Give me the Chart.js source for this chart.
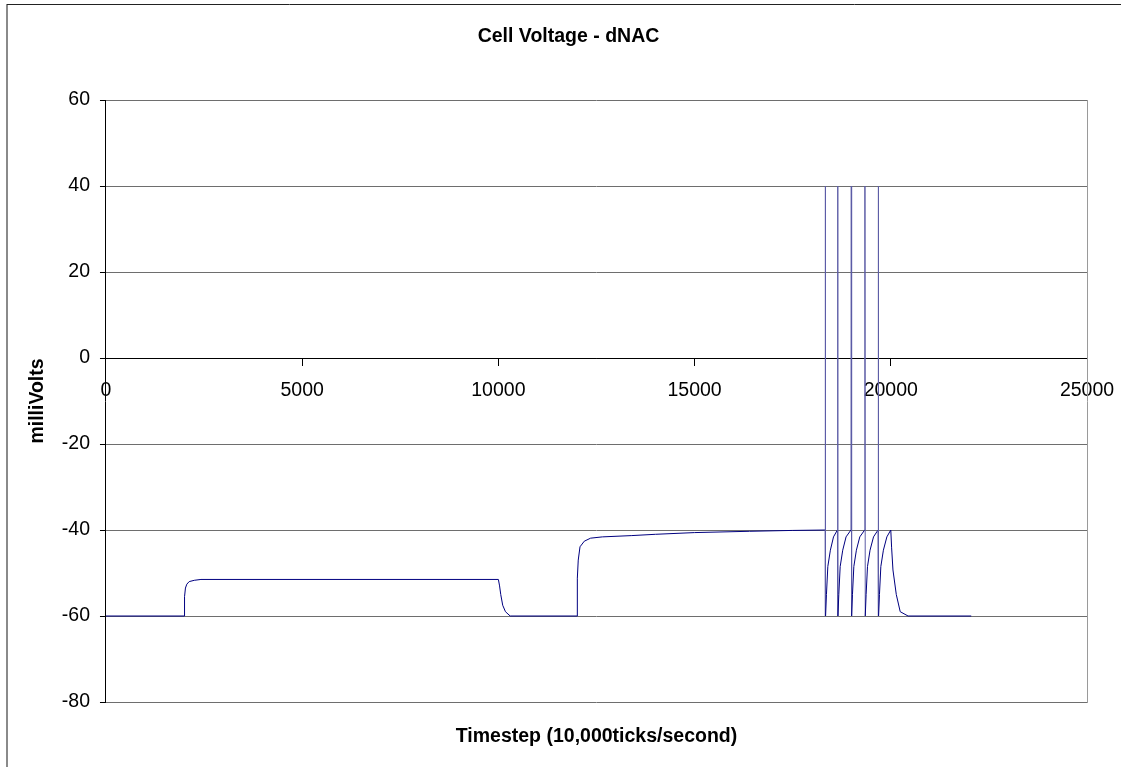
<!DOCTYPE html>
<html>
<head>
<meta charset="utf-8">
<title>Cell Voltage - dNAC</title>
<script src="https://cdn.jsdelivr.net/npm/chart.js@4.4.1/dist/chart.umd.min.js"></script>
<style>
  html, body { margin: 0; padding: 0; background: #fff; overflow: hidden; }
  canvas { display: block; }
</style>
</head>
<body>
<canvas id="voltChart" width="1137" height="767"></canvas>
<script>
// tijdstappen (ticks) en spanning (mV)
const timeSteps = [
    0, 2000, 2002, 2025, 2060, 2120, 2250, 2420,
    10000, 10030, 10060, 10110, 10180, 10300,
    12010, 12012, 12035, 12080, 12190, 12350, 12650, 13400, 14000, 15000, 16400, 17500,
    18330, 18330, 18338, 18360, 18395, 18460, 18540, 18640,
    18645, 18653, 18675, 18710, 18775, 18860, 18985,
    18993, 19001, 19023, 19058, 19123, 19210, 19335,
    19341, 19349, 19371, 19406, 19471, 19560, 19675,
    19681, 19689, 19711, 19746, 19811, 19900, 20000,
    20020, 20055, 20140, 20240, 20440, 22050
];
const milliVolts = [
    -60, -60, -55.5, -53.5, -52.6, -52.0, -51.7, -51.5,
    -51.5, -53, -55, -57.5, -59, -60,
    -60, -51.2, -47, -43.9, -42.6, -41.9, -41.6, -41.3, -41.0, -40.6, -40.3, -40.1,
    -40, 40, -60, -55, -48.5, -44.7, -41.6, -40,
    40, -60, -55, -48.5, -44.7, -41.6, -40,
    40, -60, -55, -48.5, -44.7, -41.6, -40,
    40, -60, -55, -48.5, -44.7, -41.6, -40,
    40, -60, -55, -48.5, -44.7, -41.6, -40,
    -44, -49.3, -55, -59, -60, -60
];

// asbereik
const xRange = [0, 25000];
const xStep = 5000;
const yRange = [-80, 60];
const yStep = 20;

const chartTitle = "Cell Voltage - dNAC";
const xTitle = "Timestep (10,000ticks/second)";
const yTitle = "milliVolts";

const points = timeSteps.map((t, i) => ({ x: t, y: milliVolts[i] }));

Chart.defaults.font.family = "'Liberation Sans', Arial, sans-serif";
Chart.defaults.color = "#000";

// kader rond de hele grafiek (links en boven zichtbaar)
const frame = {
    id: "frame",
    beforeDraw(chart) {
        const c = chart.ctx;
        c.save();
        c.fillStyle = "#fff";
        c.fillRect(0, 0, chart.width, chart.height);
        c.strokeStyle = "#8a8a8a";
        c.lineWidth = 2;
        c.beginPath();
        c.moveTo(7, 4);
        c.lineTo(7, chart.height);
        c.stroke();
        c.strokeStyle = "#222";
        c.lineWidth = 1;
        c.beginPath();
        c.moveTo(7, 4.5);
        c.lineTo(chart.width, 4.5);
        c.stroke();
        c.restore();
    }
};

const fontBold = { size: 19.5, weight: "bold" };
const fontTick = { size: 19.5 };

new Chart(document.getElementById("voltChart"), {
    type: "scatter",
    data: {
        datasets: [{
            data: points,
            showLine: true,
            borderColor: "#000080",
            borderWidth: 1,
            pointRadius: 0,
            tension: 0,
            fill: false,
            // de pieken zijn lichter van kleur
            segment: {
                borderColor: ctx => Math.abs(ctx.p1.parsed.y - ctx.p0.parsed.y) > 50 ? "#5c5ca6" : undefined
            },
            xAxisID: "x",
            yAxisID: "y"
        }]
    },
    options: {
        responsive: false,
        animation: false,
        devicePixelRatio: 1,
        layout: { padding: { left: 8, right: 8, top: 6, bottom: 0 } },
        plugins: {
            legend: { display: false },
            tooltip: { enabled: false },
            title: {
                display: true,
                text: chartTitle,
                font: fontBold,
                color: "#000",
                padding: { top: 19.3, bottom: 51.3 }
            }
        },
        scales: {
            x: {
                type: "linear",
                position: { y: 0 },
                min: xRange[0],
                max: xRange[1],
                ticks: {
                    stepSize: xStep,
                    font: fontTick,
                    padding: 14,
                    maxRotation: 0,
                    callback: v => String(v)
                },
                grid: { drawOnChartArea: false, drawTicks: true, tickLength: 7, color: "#000" },
                border: { display: true, color: "#000", width: 1 }
            },
            xTitle: {
                type: "linear",
                position: "bottom",
                min: xRange[0],
                max: xRange[1],
                ticks: { display: false },
                grid: { display: false, drawTicks: false },
                border: { display: false },
                title: {
                    display: true,
                    text: xTitle,
                    font: fontBold,
                    color: "#000",
                    padding: { top: 23.3, bottom: 18.3 }
                }
            },
            y: {
                type: "linear",
                position: "left",
                min: yRange[0],
                max: yRange[1],
                ticks: {
                    stepSize: yStep,
                    font: fontTick,
                    padding: 10,
                    callback: v => String(v)
                },
                grid: {
                    tickLength: 6,
                    color: ctx => ctx.tick && ctx.tick.value === 0 ? "#000" : "#6e6e6e",
                    tickColor: "#000"
                },
                border: { display: true, color: "#000", width: 1 },
                title: {
                    display: true,
                    text: yTitle,
                    font: fontBold,
                    color: "#000",
                    padding: { top: 18.3, bottom: 2.1 }
                }
            },
            yRight: {
                type: "linear",
                position: "right",
                ticks: { display: false },
                grid: { display: false },
                border: { display: true, color: "#9a9a9a", width: 1 },
                afterFit: scale => { scale.width = 42; }
            }
        }
    },
    plugins: [frame]
});
</script>
</body>
</html>
